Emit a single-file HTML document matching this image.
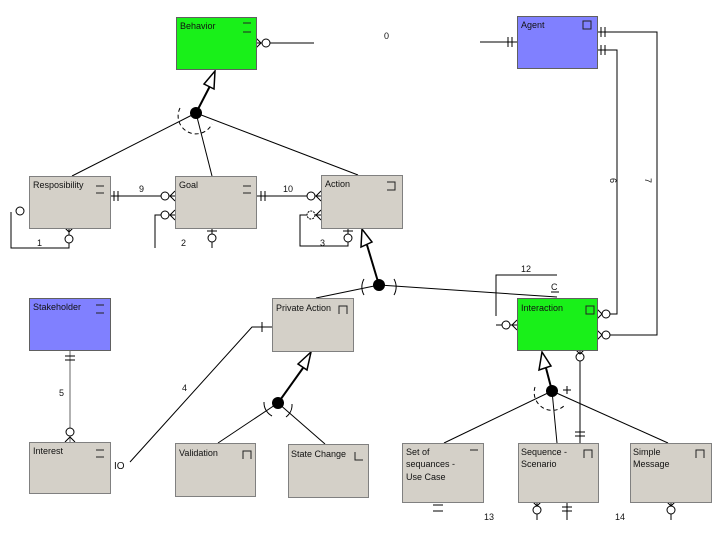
<!DOCTYPE html>
<html><head><meta charset="utf-8"><style>
html,body{margin:0;padding:0;background:#fff;}
svg{display:block;font-family:"Liberation Sans",sans-serif;}
text{font-size:9px;fill:#111;}
</style></head><body>
<svg width="720" height="540" viewBox="0 0 720 540" xmlns="http://www.w3.org/2000/svg">
<defs>
<g id="box"></g>
</defs>
<g stroke="#000" stroke-width="1" fill="none">
<!-- generalization Behavior -->
<line x1="196" y1="113" x2="72" y2="176"/>
<line x1="196" y1="113" x2="212" y2="176"/>
<line x1="196" y1="113" x2="358" y2="175"/>
<line x1="196" y1="113" x2="210" y2="86" stroke-width="2"/>
<polygon points="215,71 204,84 214,89" fill="#fff" stroke-width="1.5"/>
<path d="M180,108 A17,17 0 0 0 212,124" stroke-dasharray="4,3"/>
<path d="M212,108 A17,17 0 0 1 180,124" stroke-dasharray="4,3" opacity="0"/>
<!-- generalization Action -->
<line x1="379" y1="285" x2="316" y2="298"/>
<line x1="379" y1="285" x2="557" y2="297"/>
<line x1="379" y1="285" x2="367" y2="245" stroke-width="2"/>
<polygon points="362,229 361,247 372,242" fill="#fff" stroke-width="1.5"/>
<path d="M364,279 A16,16 0 0 0 364,295"/>
<path d="M394,279 A16,16 0 0 1 394,295"/>
<!-- generalization Private Action -->
<line x1="278" y1="403" x2="218" y2="443"/>
<line x1="278" y1="403" x2="325" y2="444"/>
<line x1="278" y1="403" x2="303" y2="368" stroke-width="2"/>
<polygon points="311,352 298,364 307,370" fill="#fff" stroke-width="1.5"/>
<path d="M264,402 A15,15 0 0 0 272,416"/>
<path d="M292,404 A15,15 0 0 1 286,417"/>
<!-- generalization Interaction -->
<line x1="552" y1="391" x2="444" y2="443"/>
<line x1="552" y1="391" x2="557" y2="443"/>
<line x1="552" y1="391" x2="668" y2="443"/>
<line x1="552" y1="391" x2="546" y2="368" stroke-width="2"/>
<polygon points="542,352 539,370 551,366" fill="#fff" stroke-width="1.5"/>
<path d="M535,387 A18,18 0 0 0 565,405" stroke-dasharray="4,3"/>
<!-- Behavior - Agent -->
<line x1="256" y1="43" x2="314" y2="43"/>
<line x1="480" y1="42" x2="517" y2="42"/>
<circle cx="266" cy="43" r="4" fill="#fff"/>
<path d="M256,38 L261,43 L256,48"/>
<line x1="508" y1="37" x2="508" y2="47"/><line x1="512" y1="37" x2="512" y2="47"/>
<!-- Agent - Interaction -->
<polyline points="597,32 657,32 657,335 607,335"/>
<polyline points="597,50 617,50 617,314 607,314"/>
<line x1="601" y1="27" x2="601" y2="37"/><line x1="605" y1="27" x2="605" y2="37"/>
<line x1="601" y1="45" x2="601" y2="55"/><line x1="605" y1="45" x2="605" y2="55"/>
<circle cx="606" cy="314" r="4" fill="#fff"/><path d="M597,309 L602,314 L597,319"/>
<circle cx="606" cy="335" r="4" fill="#fff"/><path d="M597,330 L602,335 L597,340"/>
<!-- Resp - Goal -->
<line x1="110" y1="196" x2="175" y2="196"/>
<line x1="114" y1="191" x2="114" y2="201"/><line x1="118" y1="191" x2="118" y2="201"/>
<circle cx="165" cy="196" r="4" fill="#fff"/><path d="M175,191 L170,196 L175,201"/>
<!-- Goal - Action -->
<line x1="256" y1="196" x2="321" y2="196"/>
<line x1="261" y1="191" x2="261" y2="201"/><line x1="265" y1="191" x2="265" y2="201"/>
<circle cx="311" cy="196" r="4" fill="#fff"/><path d="M321,191 L316,196 L321,201"/>
<!-- self loops -->
<polyline points="69,228 69,248 11,248 11,212"/>
<circle cx="69" cy="239" r="4" fill="#fff"/><path d="M65,228 L69,232 L73,228"/>
<circle cx="20" cy="211" r="4" fill="#fff"/>
<polyline points="155,248 155,215 175,215"/>
<circle cx="165" cy="215" r="4" fill="#fff"/><path d="M175,210 L170,215 L175,220"/>
<line x1="212" y1="228" x2="212" y2="248"/>
<circle cx="212" cy="238" r="4" fill="#fff"/><line x1="207" y1="231" x2="217" y2="231"/>
<polyline points="348,228 348,246 300,246 300,215 321,215"/>
<circle cx="311" cy="215" r="4" fill="#fff" stroke-dasharray="2,1"/><path d="M321,210 L316,215 L321,220"/>
<circle cx="348" cy="238" r="4" fill="#fff"/><line x1="343" y1="231" x2="353" y2="231"/>
<!-- Stakeholder - Interest -->
<line x1="70" y1="350" x2="70" y2="442" stroke="#666"/>
<line x1="65" y1="356" x2="75" y2="356"/><line x1="65" y1="360" x2="75" y2="360"/>
<circle cx="70" cy="432" r="4" fill="#fff"/><path d="M65,442 L70,437 L75,442"/>
<!-- Interest - Private Action -->
<polyline points="130,462 252,327 272,327"/>
<line x1="262" y1="322" x2="262" y2="332"/>
<!-- Interaction self loop -->
<polyline points="557,275 496,275 496,316"/>
<line x1="496" y1="325" x2="517" y2="325"/>
<circle cx="506" cy="325" r="4" fill="#fff"/><path d="M517,320 L512,325 L517,330"/>
<line x1="551" y1="292" x2="559" y2="292"/>
<!-- Interaction - Sequence -->
<line x1="580" y1="350" x2="580" y2="443"/>
<circle cx="580" cy="357" r="4" fill="#fff"/><path d="M576,350 L580,354 L584,350"/>
<line x1="575" y1="432" x2="585" y2="432"/><line x1="575" y1="436" x2="585" y2="436"/>
<line x1="563" y1="390" x2="571" y2="390"/><line x1="567" y1="386" x2="567" y2="394"/>
<!-- bottom stubs -->
<line x1="433" y1="505" x2="443" y2="505"/><line x1="433" y1="511" x2="443" y2="511"/>
<line x1="537" y1="502" x2="537" y2="520"/><circle cx="537" cy="510" r="4" fill="#fff"/><path d="M533,502 L537,506 L541,502"/>
<line x1="567" y1="502" x2="567" y2="520"/><line x1="562" y1="507" x2="572" y2="507"/><line x1="562" y1="511" x2="572" y2="511"/>
<line x1="671" y1="502" x2="671" y2="520"/><circle cx="671" cy="510" r="4" fill="#fff"/><path d="M667,502 L671,506 L675,502"/>
</g>
<!-- dots -->
<g fill="#000">
<circle cx="196" cy="113" r="6"/>
<circle cx="379" cy="285" r="6"/>
<circle cx="278" cy="403" r="6"/>
<circle cx="552" cy="391" r="6"/>
</g>
<!-- boxes -->
<g stroke-width="1">
<g fill="#d4d0c8" stroke="#808080">
<rect x="29.5" y="176.5" width="81" height="52"/>
<rect x="175.5" y="176.5" width="81" height="52"/>
<rect x="321.5" y="175.5" width="81" height="53"/>
<rect x="29.5" y="442.5" width="81" height="51"/>
<rect x="272.5" y="298.5" width="81" height="53"/>
<rect x="175.5" y="443.5" width="80" height="53"/>
<rect x="288.5" y="444.5" width="80" height="53"/>
<rect x="402.5" y="443.5" width="81" height="59"/>
<rect x="518.5" y="443.5" width="80" height="59"/>
<rect x="630.5" y="443.5" width="81" height="59"/>
</g>
<rect x="176.5" y="17.5" width="80" height="52" fill="#19f019" stroke="#606060"/>
<rect x="517.5" y="16.5" width="80" height="52" fill="#8080ff" stroke="#606060"/>
<rect x="29.5" y="298.5" width="81" height="52" fill="#8080ff" stroke="#606060"/>
<rect x="517.5" y="298.5" width="80" height="52" fill="#19f019" stroke="#606060"/>
</g>
<!-- box icons -->
<g stroke="#222" fill="none">
<path d="M243,23h8M243,32h8"/>
<rect x="583" y="21" width="8" height="8"/>
<path d="M96,186h8M96,193h8"/>
<path d="M243,186h8M243,193h8"/>
<path d="M387,182h8v8h-8"/>
<path d="M96,305h8M96,313h8"/>
<path d="M96,450h8M96,457h8"/>
<path d="M339,314v-8h8v8"/>
<rect x="586" y="306" width="8" height="8"/>
<path d="M243,459v-8h8v8"/>
<path d="M355,452v8h8"/>
<path d="M470,450h8"/>
<path d="M584,458v-8h8v8"/>
<path d="M696,458v-8h8v8"/>
</g>
<!-- text -->
<g>
<text x="180" y="29">Behavior</text>
<text x="521" y="28">Agent</text>
<text x="33" y="188">Resposibility</text>
<text x="179" y="188">Goal</text>
<text x="325" y="187">Action</text>
<text x="33" y="310">Stakeholder</text>
<text x="276" y="311">Private Action</text>
<text x="521" y="311">Interaction</text>
<text x="33" y="454">Interest</text>
<text x="179" y="456">Validation</text>
<text x="291" y="457">State Change</text>
<text x="406" y="455">Set of</text>
<text x="406" y="467">sequances -</text>
<text x="406" y="480">Use Case</text>
<text x="521" y="455">Sequence -</text>
<text x="521" y="467">Scenario</text>
<text x="633" y="455">Simple</text>
<text x="633" y="467">Message</text>
<text x="384" y="39">0</text>
<text x="139" y="192">9</text>
<text x="283" y="192">10</text>
<text x="37" y="246">1</text>
<text x="181" y="246">2</text>
<text x="320" y="246">3</text>
<text x="521" y="272">12</text>
<text x="551" y="290">C</text>
<text x="114" y="469" style="font-size:10px">IO</text>
<text x="182" y="391">4</text>
<text x="59" y="396">5</text>
<text x="484" y="520">13</text>
<text x="615" y="520">14</text>
<text transform="translate(610,178) rotate(90)">6</text>
<text transform="translate(645,178) rotate(90)">7</text>
</g>
</svg>
</body></html>
